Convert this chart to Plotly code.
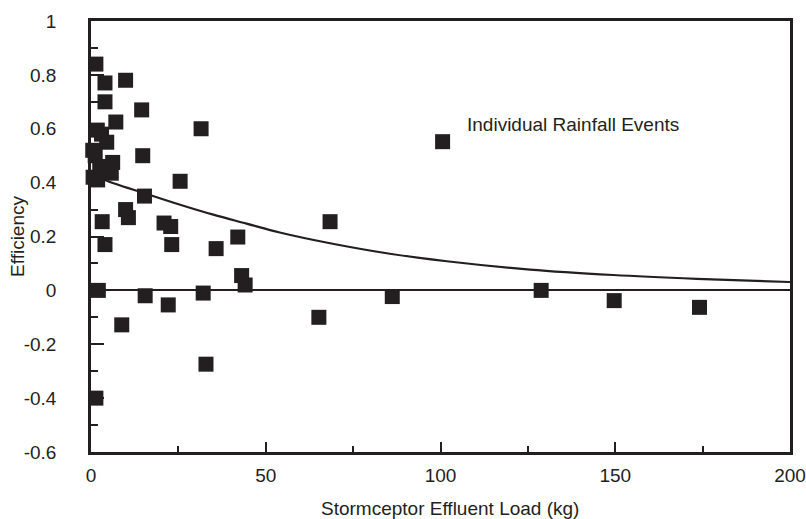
import plotly.graph_objects as go

# Individual rainfall events: effluent load (kg) vs. removal efficiency
load_kg = [1.4, 4.0, 9.9, 4.0, 14.5, 7.1, 31.5, 1.8, 3.0, 4.5, 0.5, 1.2, 14.8,
           6.2, 2.5, 3.8, 5.8, 1.9, 0.6, 25.5, 15.3, 9.9, 10.7, 3.2, 20.9, 22.8,
           68.4, 42.0, 4.0, 23.1, 35.8, 43.1, 44.1, 2.1, 15.5, 32.1, 22.1, 86.2,
           128.8, 149.7, 174.1, 65.2, 8.8, 32.9, 1.4, 100.6]
efficiency = [0.84, 0.77, 0.78, 0.70, 0.67, 0.625, 0.60, 0.595, 0.58, 0.55, 0.52,
              0.50, 0.50, 0.475, 0.46, 0.44, 0.435, 0.41, 0.42, 0.405, 0.35, 0.30,
              0.27, 0.255, 0.25, 0.237, 0.255, 0.198, 0.17, 0.17, 0.155, 0.055,
              0.02, 0.0, -0.02, -0.01, -0.054, -0.023, 0.0, -0.038, -0.063, -0.10,
              -0.128, -0.274, -0.40, 0.552]

# Fitted trend curve
trend_load = [0.5, 4, 15.5, 25.5, 35, 44.5, 54, 68.4, 85.5, 101.8, 125.6, 149.4,
              173.3, 200]
trend_eff = [0.435, 0.41, 0.36, 0.318, 0.281, 0.248, 0.215, 0.175, 0.136, 0.108,
             0.077, 0.057, 0.043, 0.031]

y_ticks = [1, 0.8, 0.6, 0.4, 0.2, 0, -0.2, -0.4, -0.6]
y_labels = ["1", "0.8", "0.6", "0.4", "0.2", "0", "-0.2", "-0.4", "-0.6"]
x_ticks = [0, 50, 100, 150, 200]
x_labels = ["0", "50", "100", "150", "200"]

INK = "#231f20"
FONT = "Liberation Sans, Arial, sans-serif"
FS = 19

fig = go.Figure()
fig.add_trace(go.Scatter(
    x=trend_load, y=trend_eff, mode="lines", line_shape="spline",
    line=dict(color=INK, width=2.2), hoverinfo="skip", showlegend=False,
))
fig.add_trace(go.Scatter(
    x=load_kg, y=efficiency, mode="markers", cliponaxis=False,
    marker=dict(symbol="square", size=15, color=INK, line=dict(width=0)),
    showlegend=False,
))

fig.add_annotation(
    x=107.0, y=0.614, xref="x", yref="y", text="Individual Rainfall Events",
    showarrow=False, xanchor="left", yanchor="middle",
    font=dict(family=FONT, size=FS, color=INK),
)
# Axis titles
fig.add_annotation(
    x=0.5136, y=-0.13, xref="paper", yref="paper",
    text="Stormceptor Effluent Load (kg)", showarrow=False,
    xanchor="center", yanchor="middle",
    font=dict(family=FONT, size=FS, color=INK),
)
fig.add_annotation(
    x=-0.1044, y=0.499, xref="paper", yref="paper", text="Efficiency",
    textangle=-90, showarrow=False, xanchor="center", yanchor="middle",
    font=dict(family=FONT, size=FS, color=INK),
)

axis_common = dict(
    showline=True, linecolor=INK, linewidth=2.5, mirror=True,
    showgrid=False, ticks="inside", tickcolor=INK, tickwidth=2,
    tickfont=dict(family=FONT, size=FS, color=INK),
    ticklabeloverflow="allow", automargin=False,
)

fig.update_xaxes(
    **axis_common, range=[0, 200], tickvals=x_ticks, ticktext=x_labels,
    ticklen=10, zeroline=False, ticklabelstandoff=4,
    minor=dict(dtick=25, ticks="inside", ticklen=6, tickwidth=2, tickcolor=INK,
               showgrid=False),
)
fig.update_yaxes(
    **axis_common, range=[-0.6, 1], tickvals=y_ticks, ticktext=y_labels,
    ticklen=13, ticklabelstandoff=28,
    zeroline=True, zerolinecolor=INK, zerolinewidth=2.2,
    minor=dict(dtick=0.1, tick0=0, ticks="inside", ticklen=7, tickwidth=2,
               tickcolor=INK, showgrid=False),
)

fig.update_layout(
    width=806, height=519,
    margin=dict(l=91, r=16, t=21, b=67),
    plot_bgcolor="white", paper_bgcolor="white",
    font=dict(family=FONT, color=INK),
)

fig.write_html("out.html")
